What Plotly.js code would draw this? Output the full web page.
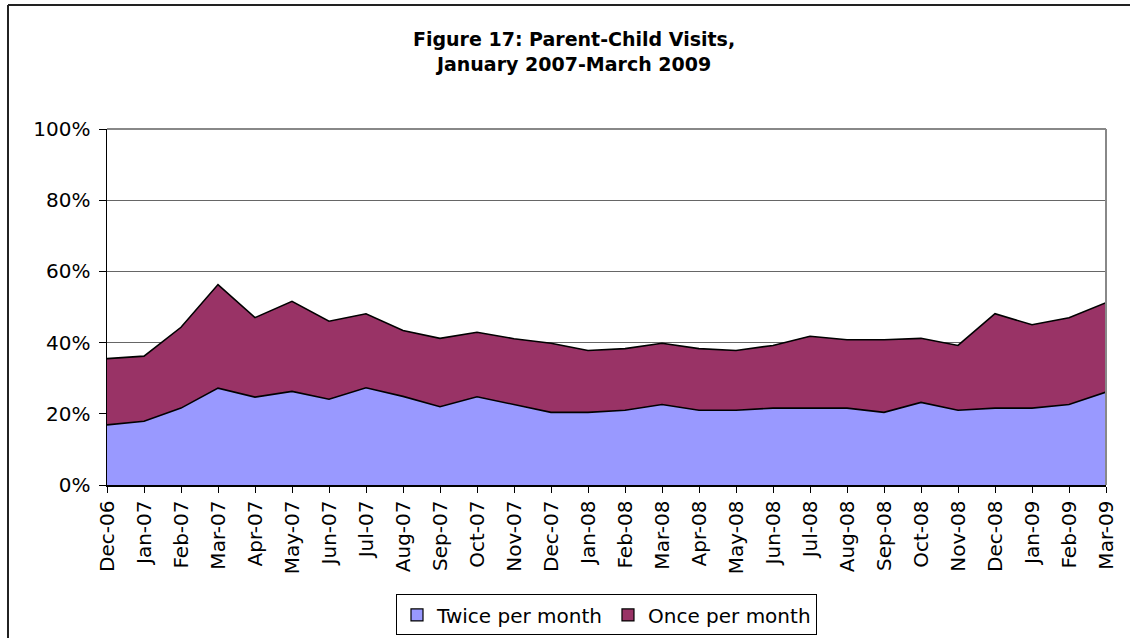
<!DOCTYPE html>
<html>
<head>
<meta charset="utf-8">
<script src="https://cdn.plot.ly/plotly-3.0.1.min.js"></script>
<style>
  html, body { margin: 0; padding: 0; background: #fff; }
  #chart { width: 1130px; height: 638px; }
</style>
</head>
<body>
<div id="chart"></div>
<script>
// Parent-child visits, share of children by visit frequency
const months = ['Dec-06', 'Jan-07', 'Feb-07', 'Mar-07', 'Apr-07', 'May-07', 'Jun-07', 'Jul-07',
    'Aug-07', 'Sep-07', 'Oct-07', 'Nov-07', 'Dec-07', 'Jan-08', 'Feb-08', 'Mar-08', 'Apr-08',
    'May-08', 'Jun-08', 'Jul-08', 'Aug-08', 'Sep-08', 'Oct-08', 'Nov-08', 'Dec-08', 'Jan-09',
    'Feb-09', 'Mar-09'];

const twicePerMonth = [16.9, 17.9, 21.6, 27.2, 24.7, 26.3, 24.1, 27.3, 24.9, 22.0, 24.8, 22.7,
    20.4, 20.4, 21.0, 22.6, 21.0, 21.0, 21.6, 21.6, 21.6, 20.4, 23.2, 21.0, 21.6, 21.6, 22.6, 26.1];

const oncePerMonth = [18.6, 18.3, 22.7, 29.1, 22.3, 25.3, 21.9, 20.8, 18.5, 19.2, 18.1, 18.4,
    19.4, 17.4, 17.3, 17.2, 17.3, 16.8, 17.6, 20.2, 19.2, 20.4, 18.0, 18.2, 26.5, 23.4, 24.4, 25.1];

const seriesNames = ['Twice per month', 'Once per month'];
const seriesColors = ['#9999ff', '#993366'];
const seriesValues = [twicePerMonth, oncePerMonth];

const FONT = 'DejaVu Sans, Verdana, sans-serif';

const traces = [];

// stacked areas with black top edges
seriesValues.forEach((vals, i) => {
    traces.push({
        x: months,
        y: vals,
        name: seriesNames[i],
        type: 'scatter',
        mode: 'lines',
        stackgroup: 'visits',
        fillcolor: seriesColors[i],
        line: { color: '#000000', width: 1.6 },
        showlegend: false,
        hoverinfo: 'x+y+name'
    });
});

// same series as stacked bars on a hidden overlay axis, only so the
// legend gets Excel-like square swatches
seriesValues.forEach((vals, i) => {
    traces.push({
        x: months,
        y: vals,
        name: seriesNames[i],
        type: 'bar',
        xaxis: 'x2',
        yaxis: 'y2',
        marker: { color: seriesColors[i], line: { color: '#000000', width: 1.2 } },
        hoverinfo: 'skip'
    });
});

const layout = {
    width: 1130,
    height: 638,
    margin: { l: 107, r: 24, t: 129, b: 153 },
    paper_bgcolor: '#ffffff',
    plot_bgcolor: '#ffffff',
    font: { family: FONT, size: 20, color: '#000000' },
    barmode: 'stack',
    title: {
        text: '<b>Figure 17: Parent-Child Visits,<br>January 2007-March 2009</b>',
        font: { family: FONT, size: 19, color: '#000000' },
        x: 0.508,
        xanchor: 'center',
        y: 0.928,
        yanchor: 'middle'
    },
    xaxis: {
        type: 'category',
        range: [0, months.length - 1],
        tickangle: -90,
        ticks: 'outside',
        ticklen: 6,
        tickcolor: '#000000',
        showline: true,
        linecolor: '#000000',
        linewidth: 1.5,
        showgrid: false,
        zeroline: false,
        automargin: false,
        tickfont: { family: FONT, size: 20 }
    },
    yaxis: {
        range: [0, 100],
        dtick: 20,
        ticksuffix: '%',
        ticks: 'outside',
        ticklen: 7,
        tickcolor: '#000000',
        ticklabelstandoff: 4,
        showline: true,
        linecolor: '#000000',
        linewidth: 1.5,
        showgrid: true,
        gridcolor: '#666666',
        gridwidth: 1,
        zeroline: false,
        automargin: false,
        tickfont: { family: FONT, size: 20 }
    },
    xaxis2: {
        type: 'category',
        overlaying: 'x',
        visible: false,
        range: [0, months.length - 1]
    },
    yaxis2: {
        overlaying: 'y',
        visible: false,
        range: [-300, -200]
    },
    showlegend: true,
    legend: {
        orientation: 'h',
        x: 0.5,
        xanchor: 'center',
        yref: 'container',
        y: 0.004,
        yanchor: 'bottom',
        bordercolor: '#000000',
        borderwidth: 1,
        bgcolor: '#ffffff',
        font: { family: FONT, size: 20 },
        itemwidth: 30,
        traceorder: 'normal'
    },
    shapes: [
        // plot area border (top and right), grey
        {
            type: 'line', xref: 'paper', yref: 'paper',
            x0: 1, x1: 1, y0: 0, y1: 1,
            line: { color: '#888888', width: 2 }
        },
        {
            type: 'line', xref: 'paper', yref: 'paper',
            x0: 0, x1: 1, y0: 1, y1: 1,
            line: { color: '#888888', width: 2 }
        },
        // outer chart frame: left and top edges
        {
            type: 'line', xref: 'paper', yref: 'paper',
            x0: -0.0991, x1: -0.0991, y0: -0.6, y1: 1.348,
            line: { color: '#222222', width: 2 }
        },
        {
            type: 'line', xref: 'paper', yref: 'paper',
            x0: -0.0991, x1: 1.2, y0: 1.348, y1: 1.348,
            line: { color: '#222222', width: 2 }
        }
    ]
};

Plotly.newPlot('chart', traces, layout, { displayModeBar: false, staticPlot: true });
</script>
</body>
</html>
